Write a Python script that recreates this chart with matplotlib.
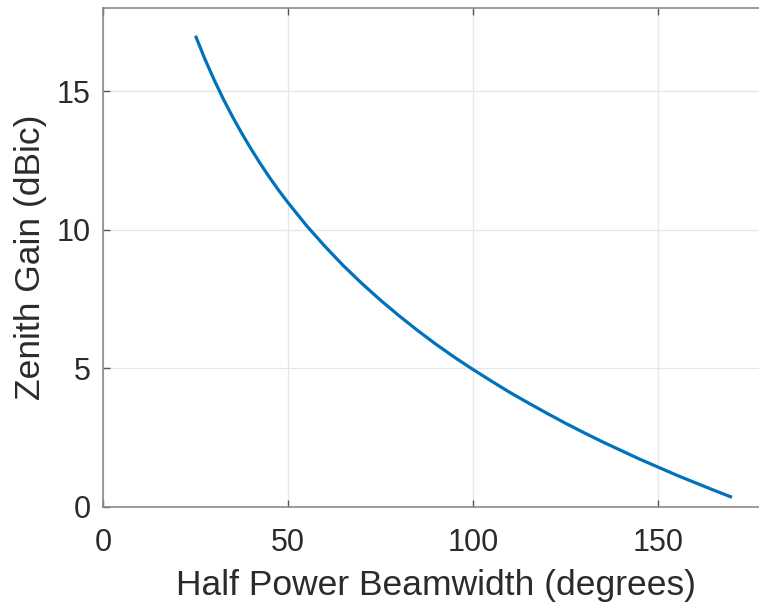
import matplotlib
matplotlib.use("Agg")
import matplotlib.pyplot as plt

# Data
beamwidth_deg = [25, 27.5, 30, 32.5, 35, 37.5, 40, 42.5, 45, 47.5, 50, 55, 60, 65, 70,
                 75, 80, 85, 90, 95, 100, 105, 110, 115, 120, 125, 130, 135, 140,
                 145, 150, 155, 160, 165, 170]
zenith_gain_dbic = [17.00, 16.17, 15.42, 14.72, 14.08, 13.48, 12.92, 12.39, 11.89, 11.42,
                    10.98, 10.15, 9.40, 8.70, 8.06, 7.46, 6.90, 6.37, 5.87, 5.40,
                    4.96, 4.54, 4.13, 3.75, 3.38, 3.02, 2.68, 2.35, 2.04, 1.73,
                    1.44, 1.15, 0.88, 0.61, 0.35]
x_ticks = [0, 50, 100, 150]
y_ticks = [0, 5, 10, 15]

plt.rcParams['font.family'] = ['Liberation Sans', 'DejaVu Sans']

W, H = 759, 604
fig = plt.figure(figsize=(W / 100, H / 100), dpi=100)
left, bottom_px, top_px, right_px = 103, 507, 8, 769
ax = fig.add_axes([left / W, 1 - bottom_px / H, (right_px - left) / W, (bottom_px - top_px) / H])

ax.plot(beamwidth_deg, zenith_gain_dbic, color='#0072BD', linewidth=2.3,
        solid_capstyle='butt', solid_joinstyle='round')

ax.set_xlim(0, 180)
ax.set_ylim(0, 18)
ax.set_xticks(x_ticks)
ax.set_yticks(y_ticks)
ax.grid(True, color='#e6e6e6', linewidth=0.9)
ax.set_axisbelow(True)

spine_col = '#8a8a8a'
for s in ax.spines.values():
    s.set_color(spine_col)
    s.set_linewidth(1.2)
ax.spines['right'].set_visible(False)

text_col = '#2b2b2b'
ax.tick_params(direction='in', length=5, width=1, color='#555555',
               labelsize=22, labelcolor=text_col, top=True, right=False)
ax.tick_params(axis='x', pad=15)
ax.tick_params(axis='y', pad=9)

ax.set_xlabel('Half Power Beamwidth (degrees)', fontsize=25.5, color=text_col, labelpad=8)
ax.set_ylabel('Zenith Gain (dBic)', fontsize=25.5, color=text_col, labelpad=7)

fig.savefig('out.png', dpi=100)
